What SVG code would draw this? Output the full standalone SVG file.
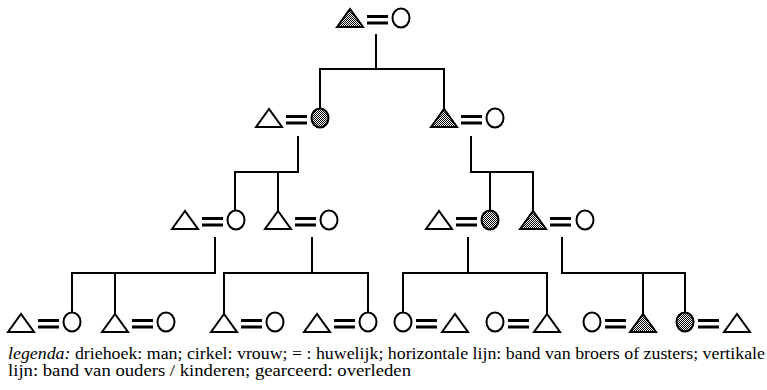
<svg xmlns="http://www.w3.org/2000/svg" xmlns:xlink="http://www.w3.org/1999/xlink" width="767" height="390" viewBox="0 0 767 390">
  <style>
    .man { fill: #fff; stroke: #000; stroke-width: 2; stroke-linejoin: miter; }
    .woman { fill: #fff; stroke: #000; stroke-width: 2; }
    .dead { fill: url(#hatch); }
    .eq { fill: #000; }
    .link { fill: none; stroke: #000; stroke-width: 2; stroke-linecap: square; }
    .legend { font-family: "Liberation Serif", "Times New Roman", serif; font-size: 16px; fill: #000; }
  </style>
  <defs>
    <!-- dotted fill for deceased persons -->
    <pattern id="hatch" width="2" height="2" patternUnits="userSpaceOnUse">
      <rect width="2" height="2" fill="#fff"/>
      <rect x="0" y="0" width="1" height="1" fill="#000"/>
      <rect x="1" y="1" width="1" height="1" fill="#000"/>
    </pattern>
    <!-- man: triangle, origin at left end of base -->
    <path id="tri" d="M0,0 L13,-18 L26,0 Z"/>
    <!-- woman: circle, origin at centre -->
    <ellipse id="circ" cx="0" cy="0" rx="8.5" ry="9.5"/>
    <!-- marriage sign, origin at left end -->
    <g id="eq">
      <rect x="0" y="-3" width="21" height="3"/>
      <rect x="0" y="3.5" width="21" height="3"/>
    </g>
  </defs>

  <!-- connectors -->
  <g id="connectors" class="link">
    <path d="M376,35 V69 M320,69 H444 M320,69 V108 M444,69 V109"/>
    <path d="M298,137 V172 M235,172 H298 M235,172 V210 M278,172 V211"/>
    <path d="M471,137 V172 H533 M490,172 V210 M533,172 V211"/>
    <path d="M215,238 V273 M72,273 H215 M72,273 V312 M115,273 V313"/>
    <path d="M312,238 V273 M224,273 H368 M224,273 V313 M368,273 V312"/>
    <path d="M468,238 V273 M403,273 H547 M403,273 V312 M547,273 V313"/>
    <path d="M562,238 V273 H685 M643,273 V313 M685,273 V312"/>
  </g>

  <!-- generation 1 -->
  <g id="n-top">
    <use href="#tri" x="337" y="27" class="man dead"/>
    <use href="#eq" x="367" y="18" class="eq"/>
    <use href="#circ" x="401" y="18" class="woman"/>
  </g>

  <!-- generation 2 -->
  <g id="n-g2a">
    <use href="#tri" x="256" y="127" class="man"/>
    <use href="#eq" x="286" y="118" class="eq"/>
    <use href="#circ" x="320" y="118" class="woman dead"/>
  </g>
  <g id="n-g2b">
    <use href="#tri" x="431" y="127" class="man dead"/>
    <use href="#eq" x="461" y="118" class="eq"/>
    <use href="#circ" x="495" y="118" class="woman"/>
  </g>

  <!-- generation 3 -->
  <g id="n-g3a">
    <use href="#tri" x="172" y="229" class="man"/>
    <use href="#eq" x="202" y="220" class="eq"/>
    <use href="#circ" x="236" y="220" class="woman"/>
  </g>
  <g id="n-g3b">
    <use href="#tri" x="265" y="229" class="man"/>
    <use href="#eq" x="295" y="220" class="eq"/>
    <use href="#circ" x="329" y="220" class="woman"/>
  </g>
  <g id="n-g3c">
    <use href="#tri" x="426" y="229" class="man"/>
    <use href="#eq" x="456" y="220" class="eq"/>
    <use href="#circ" x="490" y="220" class="woman dead"/>
  </g>
  <g id="n-g3d">
    <use href="#tri" x="520" y="229" class="man dead"/>
    <use href="#eq" x="550" y="220" class="eq"/>
    <use href="#circ" x="585" y="220" class="woman"/>
  </g>

  <!-- generation 4 -->
  <g id="n-g4a">
    <use href="#tri" x="8" y="332" class="man"/>
    <use href="#eq" x="38" y="322" class="eq"/>
    <use href="#circ" x="72" y="322" class="woman"/>
  </g>
  <g id="n-g4b">
    <use href="#tri" x="102" y="332" class="man"/>
    <use href="#eq" x="132" y="322" class="eq"/>
    <use href="#circ" x="166" y="322" class="woman"/>
  </g>
  <g id="n-g4c">
    <use href="#tri" x="211" y="332" class="man"/>
    <use href="#eq" x="241" y="322" class="eq"/>
    <use href="#circ" x="275" y="322" class="woman"/>
  </g>
  <g id="n-g4d">
    <use href="#tri" x="304" y="332" class="man"/>
    <use href="#eq" x="334" y="322" class="eq"/>
    <use href="#circ" x="368" y="322" class="woman"/>
  </g>
  <g id="n-g4e">
    <use href="#circ" x="403" y="322" class="woman"/>
    <use href="#eq" x="416" y="322" class="eq"/>
    <use href="#tri" x="442" y="332" class="man"/>
  </g>
  <g id="n-g4f">
    <use href="#circ" x="495" y="322" class="woman"/>
    <use href="#eq" x="508" y="322" class="eq"/>
    <use href="#tri" x="534" y="332" class="man"/>
  </g>
  <g id="n-g4g">
    <use href="#circ" x="592" y="322" class="woman"/>
    <use href="#eq" x="605" y="322" class="eq"/>
    <use href="#tri" x="630" y="332" class="man dead"/>
  </g>
  <g id="n-g4h">
    <use href="#circ" x="685" y="322" class="woman dead"/>
    <use href="#eq" x="698" y="322" class="eq"/>
    <use href="#tri" x="724" y="332" class="man"/>
  </g>

  <!-- legend -->
  <g id="legend" class="legend">
    <text x="8" y="359" textLength="757" lengthAdjust="spacingAndGlyphs"><tspan font-style="italic">legenda:</tspan> driehoek: man; cirkel: vrouw; = : huwelijk; horizontale lijn: band van broers of zusters; vertikale</text>
    <text x="8" y="376" textLength="403" lengthAdjust="spacingAndGlyphs">lijn: band van ouders / kinderen; gearceerd: overleden</text>
  </g>
</svg>
